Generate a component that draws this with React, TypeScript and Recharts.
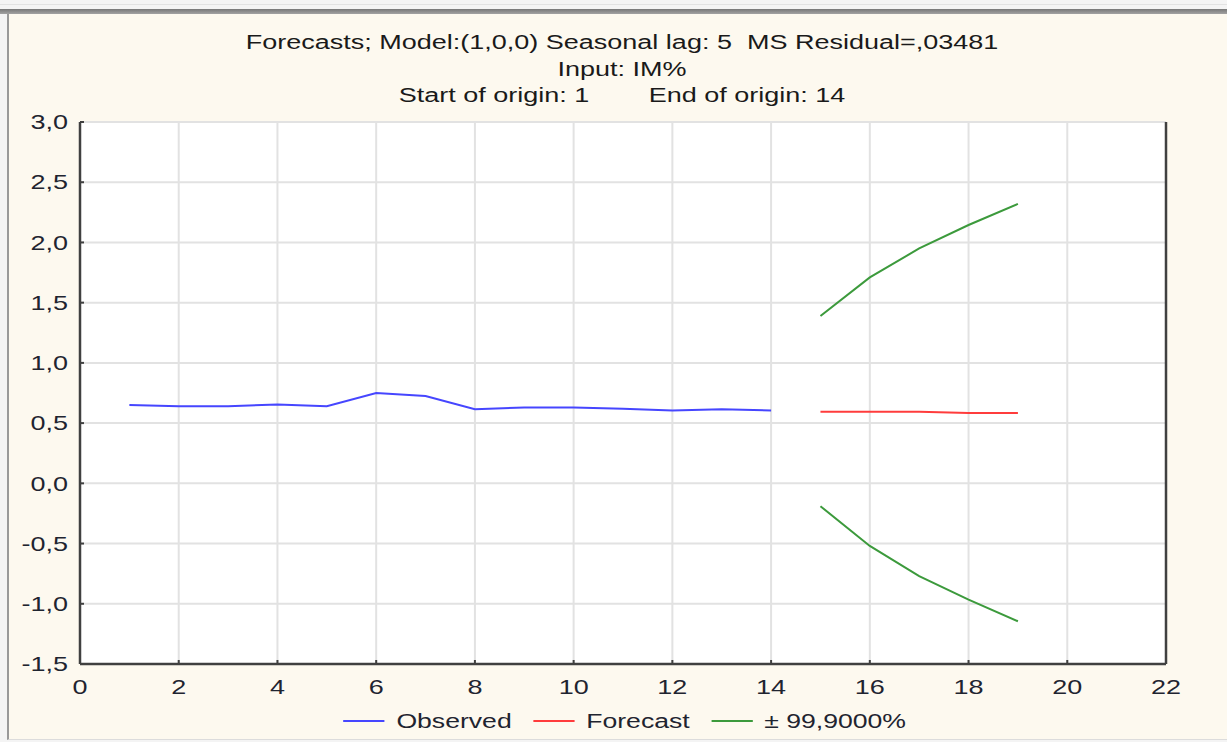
import React from 'react';
import { LineChart, Line, XAxis, YAxis, CartesianGrid, Legend } from 'recharts';

// lead steps (x axis)
const steps = [1, 2, 3, 4, 5, 6, 7, 8, 9, 10, 11, 12, 13, 14, 15, 16, 17, 18, 19];
// observed IM% for steps 1..14
const observed = [0.65, 0.64, 0.64, 0.655, 0.64, 0.75, 0.725, 0.615, 0.63, 0.63, 0.62, 0.605, 0.615, 0.605];
// forecast and 99.9% limits for steps 15..19
const forecast = [0.595, 0.595, 0.595, 0.583, 0.583];
const upper = [1.39, 1.71, 1.95, 2.145, 2.32];
const lower = [-0.19, -0.52, -0.77, -0.965, -1.145];

const xTicks = [0, 2, 4, 6, 8, 10, 12, 14, 16, 18, 20, 22];
const yTicks = [-1.5, -1, -0.5, 0, 0.5, 1, 1.5, 2, 2.5, 3];

const titleLines = ['Forecasts; Model:(1,0,0) Seasonal lag: 5  MS Residual=,03481', 'Input: IM%'];
const originStart = 'Start of origin: 1';
const originEnd = 'End of origin: 14';
const legendOrder = ['Observed', 'Forecast', '± 99,9000%'];

const BLUE = '#4646ff';
const RED = '#ff3c3c';
const GREEN = '#3c9a3c';
const AXIS = '#404040';
const TEXT = '#1f2430';
const FONT = '"Liberation Sans", Arial, sans-serif';
const STRETCH = 1.35;

const data = steps.map((s, i) => ({
  step: s,
  observed: i < observed.length ? observed[i] : null,
  forecast: i >= observed.length ? forecast[i - observed.length] : null,
  upper: i >= observed.length ? upper[i - observed.length] : null,
  lower: i >= observed.length ? lower[i - observed.length] : null,
}));

const comma = (v: number) => v.toFixed(1).replace('.', ',');

const StretchTick = ({ x, y, payload, textAnchor, fmt }: any) => (
  <g transform={`translate(${x},${y})`}>
    <text
      transform={`scale(${STRETCH},1)`}
      textAnchor={textAnchor}
      dy="0.36em"
      fontSize={20}
      fill={TEXT}
      fontFamily={FONT}
    >
      {fmt(payload.value)}
    </text>
  </g>
);

const LegendContent = ({ payload }: any) => {
  const items = (payload || [])
    .filter((e: any) => legendOrder.includes(e.value))
    .sort((a: any, b: any) => legendOrder.indexOf(a.value) - legendOrder.indexOf(b.value));
  return (
    <div style={{ width: 1227, height: 34, display: 'flex', justifyContent: 'center', alignItems: 'center' }}>
      <div
        style={{
          display: 'flex',
          alignItems: 'center',
          transform: `translateX(11px) scaleX(1.33)`,
          fontFamily: FONT,
          fontSize: 20,
          color: TEXT,
        }}
      >
        {items.map((entry: any, i: number) => (
          <div key={entry.value} style={{ display: 'flex', alignItems: 'center', marginLeft: i === 0 ? 0 : 16 }}>
            <div style={{ width: 31, height: 2, background: entry.color, marginRight: 9 }} />
            <span>{entry.value}</span>
          </div>
        ))}
      </div>
    </div>
  );
};

const App = () => {
  return (
    <div style={{ position: 'absolute', left: 0, top: 0, width: 1227, height: 742, background: '#f4f4f4', overflow: 'hidden' }}>
      <div style={{ position: 'absolute', left: 0, top: 4, width: 1227, height: 1, background: '#e2e2e2' }} />
      <div
        style={{
          position: 'absolute',
          left: 0,
          top: 9,
          width: 1227,
          height: 5,
          background: 'linear-gradient(#787878, #a2a2a2)',
        }}
      />
      <div
        style={{
          position: 'absolute',
          left: 7,
          top: 14,
          width: 1220,
          height: 725,
          background: '#fdf9ef',
          borderLeft: '2px solid #999999',
          borderBottom: '1px solid #dcdcdc',
        }}
      />

      <div
        style={{
          position: 'absolute',
          left: 0,
          top: 29,
          width: 1244,
          textAlign: 'center',
          fontFamily: FONT,
          fontSize: 20,
          lineHeight: '26.5px',
          color: '#1a1a1a',
          transform: `scaleX(${STRETCH})`,
          transformOrigin: '622px 0',
          whiteSpace: 'pre',
        }}
      >
        {titleLines.map((t) => (
          <div key={t}>{t}</div>
        ))}
        <div>
          <span>{originStart}</span>
          <span style={{ marginLeft: 44 }}>{originEnd}</span>
        </div>
      </div>

      <div style={{ position: 'absolute', left: 0, top: 0 }}>
        <LineChart width={1227} height={742} data={data} margin={{ top: 122, right: 0, bottom: 4, left: 0 }}>
          <CartesianGrid yAxisId="left" stroke="#e2e2e2" strokeWidth={2} fill="#ffffff" />
          <XAxis
            dataKey="step"
            type="number"
            domain={[0, 22]}
            ticks={xTicks}
            height={40}
            interval={0}
            axisLine={{ stroke: AXIS, strokeWidth: 2.5 }}
            tickLine={{ stroke: AXIS, strokeWidth: 2 }}
            tickSize={-4}
            tickMargin={27}
            tick={(p: any) => <StretchTick {...p} textAnchor="middle" fmt={(v: number) => String(v)} />}
          />
          <XAxis
            xAxisId="top"
            orientation="top"
            dataKey="step"
            type="number"
            domain={[0, 22]}
            ticks={xTicks}
            height={0}
            interval={0}
            axisLine={{ stroke: AXIS, strokeWidth: 2.5 }}
            tickLine={{ stroke: AXIS, strokeWidth: 2 }}
            tickSize={-4}
            tick={() => <g />}
          />
          <YAxis
            yAxisId="left"
            type="number"
            domain={[-1.5, 3]}
            ticks={yTicks}
            width={80}
            interval={0}
            axisLine={{ stroke: AXIS, strokeWidth: 2.5 }}
            tickLine={{ stroke: AXIS, strokeWidth: 2 }}
            tickSize={-4}
            tickMargin={16}
            tick={(p: any) => <StretchTick {...p} textAnchor="end" fmt={comma} />}
          />
          <YAxis
            yAxisId="right"
            orientation="right"
            type="number"
            domain={[-1.5, 3]}
            ticks={yTicks}
            width={61}
            interval={0}
            axisLine={{ stroke: AXIS, strokeWidth: 2.5 }}
            tickLine={{ stroke: AXIS, strokeWidth: 2 }}
            tickSize={-4}
            tickMargin={15}
            tick={(p: any) => <StretchTick {...p} textAnchor="start" fmt={comma} />}
          />
          <Legend verticalAlign="bottom" height={34} wrapperStyle={{ left: 0, width: 1227 }} content={<LegendContent />} />
          <Line yAxisId="left" dataKey="observed" name="Observed" stroke={BLUE} strokeWidth={2} dot={false} isAnimationActive={false} />
          <Line yAxisId="left" dataKey="forecast" name="Forecast" stroke={RED} strokeWidth={2} dot={false} isAnimationActive={false} />
          <Line yAxisId="left" dataKey="upper" name="± 99,9000%" stroke={GREEN} strokeWidth={2} dot={false} isAnimationActive={false} />
          <Line yAxisId="left" dataKey="lower" name="lower" legendType="none" stroke={GREEN} strokeWidth={2} dot={false} isAnimationActive={false} />
        </LineChart>
      </div>
    </div>
  );
};

export default App;
